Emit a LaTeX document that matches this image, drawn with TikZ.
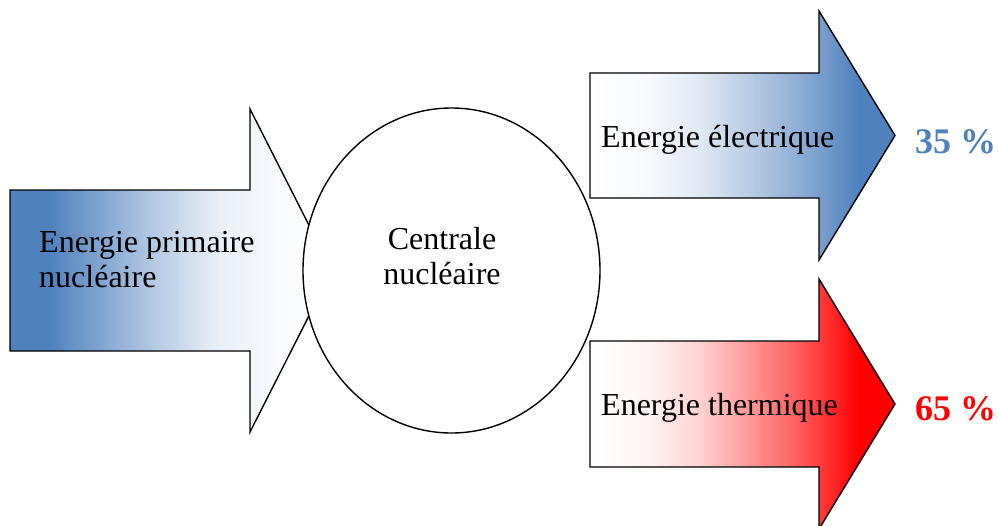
\documentclass[tikz,border=0pt]{standalone}
\usepackage{fontspec}
\setmainfont{Liberation Serif}
\usetikzlibrary{shapes.geometric}
\definecolor{ablue}{RGB}{79,129,189}
\definecolor{ared}{RGB}{255,0,0}
\pgfdeclarehorizontalshading{shblueout}{100bp}{color(0bp)=(ablue); color(31bp)=(ablue); color(46.5bp)=(ablue!45); color(57.5bp)=(ablue!12); color(67bp)=(ablue!4); color(75bp)=(white); color(100bp)=(white)}
\pgfdeclarehorizontalshading{shbluein}{100bp}{color(0bp)=(white); color(25bp)=(white); color(35bp)=(ablue!5); color(43bp)=(ablue!18); color(51bp)=(ablue!40); color(59.5bp)=(ablue!65); color(69bp)=(ablue); color(100bp)=(ablue)}
\pgfdeclarehorizontalshading{shredin}{100bp}{color(0bp)=(white); color(25bp)=(white); color(35bp)=(ared!5); color(43bp)=(ared!18); color(51bp)=(ared!40); color(59.5bp)=(ared!65); color(69bp)=(ared); color(100bp)=(ared)}
\tikzset{
  bigarrow/.style={draw=black, line width=1.4pt, line join=miter},
  lbl/.style={font=\fontsize{32}{35}\selectfont, inner sep=0pt, text=black},
  pct/.style={font=\fontsize{36}{40}\selectfont\bfseries, inner sep=0pt, anchor=base west},
}
\begin{document}
\begin{tikzpicture}[x=1pt,y=-1pt]
\useasboundingbox (0,0) rectangle (999,525);
\clip (0,0) rectangle (999,525);
% input arrow
\path[bigarrow, shading=shblueout] (10,190) -- (250,190) -- (250,109) -- (332,270.5) -- (250,432) -- (250,351) -- (10,351) -- cycle;
% central plant
\node[ellipse, draw=black, fill=white, line width=1.4pt, minimum width=297pt, minimum height=325pt, inner sep=0pt] (central) at (451.5,270.5) {};
\node[lbl, align=center] (centraltxt) at (442,256) {Centrale\\nucléaire};
\node[lbl, align=left, anchor=west] (primtxt) at (39,260) {Energie primaire\\nucléaire};
% output arrows
\path[bigarrow, shading=shbluein] (590,73) -- (819,73) -- (819,11) -- (895,135.5) -- (819,260) -- (819,198) -- (590,198) -- cycle;
\path[bigarrow, shading=shredin] (590,341) -- (819,341) -- (819,279) -- (895,404) -- (819,529) -- (819,467) -- (590,467) -- cycle;
\node[lbl, anchor=base west] (elec) at (601,147) {Energie électrique};
\node[lbl, anchor=base west] (therm) at (601,415) {Energie thermique};
\node[pct, text=ablue] (p35) at (915,153) {35 \%};
\node[pct, text=ared] (p65) at (915,420) {65 \%};
\end{tikzpicture}
\end{document}
